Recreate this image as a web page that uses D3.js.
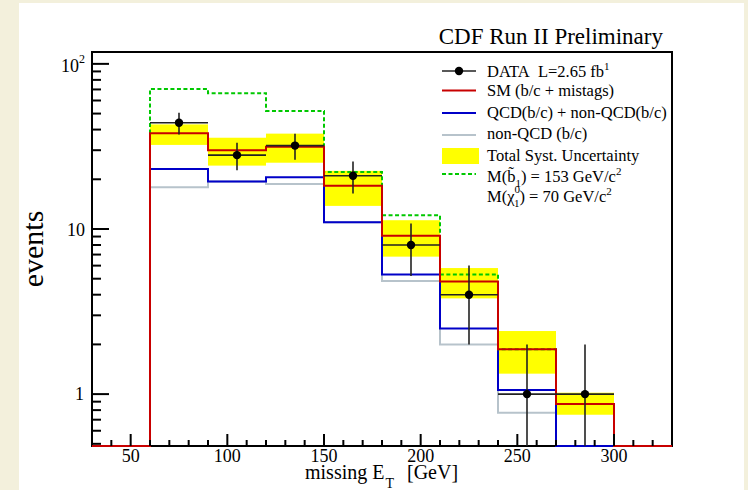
<!DOCTYPE html>
<html>
<head>
<meta charset="utf-8">
<script src="https://cdn.jsdelivr.net/npm/d3@7"></script>
<style>
  html, body { margin: 0; padding: 0; background: #f3f0dc; }
  svg { display: block; }
  text { font-family: "Liberation Serif", "Times New Roman", serif; fill: #000; white-space: pre; }
</style>
</head>
<body>
<svg id="chart" width="748" height="490"></svg>
<script>
// Missing E_T spectrum: bin edges in GeV (outer empty bins included)
const binEdges = [30, 60, 90, 120, 150, 180, 210, 240, 270, 300, 330];
const binCenters = [75, 105, 135, 165, 195, 225, 255, 285];

// Observed events and their errors
const dataCounts = [44, 28, 32, 21, 8, 4, 1, 1];
const dataErr = [6.6, 5.3, 5.7, 4.6, 2.8, 2.0, 1.0, 1.0];

// Expectations per bin (60-300 GeV)
const smTotal = [38, 30, 31.5, 18.3, 9.1, 4.8, 1.87, 0.87];
const qcdPlusNonQcd = [23.1, 19.4, 20.6, 11.0, 5.3, 2.5, 1.06, 0];
const nonQcd = [17.9, 19.4, 18.7, 11.0, 4.84, 2.0, 0.77, 0];
const signalPlusSm = [70.5, 66.4, 51.9, 22.1, 12.1, 5.3, 1.87, 0.87];

// Total systematic uncertainty band on the SM expectation
const systLo = [32.3, 24.2, 25.2, 13.8, 6.8, 3.8, 1.33, 0.75];
const systHi = [43, 35.7, 37.8, 22.5, 11.3, 5.8, 2.41, 1.02];

// Axis ticks
const xMajorTicks = [50, 100, 150, 200, 250, 300];
const xMinorTicks = [40, 60, 70, 80, 90, 110, 120, 130, 140, 160, 170, 180, 190,
  210, 220, 230, 240, 260, 270, 280, 290, 310, 320];
const yMajorTicks = [1, 10, 100];
const yMinorTicks = [0.5, 0.6, 0.7, 0.8, 0.9, 2, 3, 4, 5, 6, 7, 8, 9,
  20, 30, 40, 50, 60, 70, 80, 90];

const W = 748, H = 490;
const plot = { left: 92, right: 672, top: 52, bottom: 446 };

const svg = d3.select("#chart");

// page: cream border round a white canvas
svg.append("rect").attr("x", 0).attr("y", 0).attr("width", W).attr("height", H).attr("fill", "#f3f0dc");
svg.append("rect").attr("x", 19).attr("y", 3).attr("width", 725).attr("height", H - 3).attr("fill", "#ffffff");

const x = d3.scaleLinear().domain([30, 330]).range([plot.left, plot.right]);
const y = d3.scaleLog().domain([0.485, 118]).range([plot.bottom, plot.top]);
const yMin = y.domain()[0];
const yv = v => y(Math.max(v, yMin));

svg.append("defs").append("clipPath").attr("id", "plotClip")
  .append("rect").attr("x", plot.left - 1).attr("y", plot.top)
  .attr("width", plot.right - plot.left + 2).attr("height", plot.bottom - plot.top + 2);

// histogram step path over all bins, empty outer bins sit on the bottom edge
function stepPath(vals) {
  const full = [0, ...vals, 0];
  let p = "";
  full.forEach((v, i) => {
    const x0 = x(binEdges[i]), x1 = x(binEdges[i + 1]), yy = yv(v);
    p += (i === 0 ? "M" : "L") + x0 + "," + yy + "L" + x1 + "," + yy;
  });
  return p;
}

const g = svg.append("g").attr("clip-path", "url(#plotClip)");

// systematic band
g.append("g").selectAll("rect").data(binCenters).join("rect")
  .attr("x", (d, i) => x(binEdges[i + 1]))
  .attr("width", (d, i) => x(binEdges[i + 2]) - x(binEdges[i + 1]))
  .attr("y", (d, i) => yv(systHi[i]))
  .attr("height", (d, i) => yv(systLo[i]) - yv(systHi[i]))
  .attr("fill", "#ffff00");

// frame
svg.append("rect")
  .attr("x", plot.left).attr("y", plot.top)
  .attr("width", plot.right - plot.left).attr("height", plot.bottom - plot.top)
  .attr("fill", "none").attr("stroke", "#000").attr("stroke-width", 2);

const h = svg.append("g").attr("clip-path", "url(#plotClip)");
const histStyles = [
  { vals: nonQcd, color: "#b7c3cb", dash: null },
  { vals: qcdPlusNonQcd, color: "#0000c8", dash: null },
  { vals: signalPlusSm, color: "#00c800", dash: "4,2.5" },
  { vals: smTotal, color: "#c80000", dash: null }
];
histStyles.forEach(s => {
  h.append("path").attr("d", stepPath(s.vals))
    .attr("fill", "none").attr("stroke", s.color).attr("stroke-width", 2)
    .attr("stroke-dasharray", s.dash);
});

// data points with error bars
const pts = h.append("g");
binCenters.forEach((c, i) => {
  pts.append("line")
    .attr("x1", x(binEdges[i + 1])).attr("x2", x(binEdges[i + 2]))
    .attr("y1", yv(dataCounts[i])).attr("y2", yv(dataCounts[i]))
    .attr("stroke", "#222").attr("stroke-width", 1.6);
  pts.append("line")
    .attr("x1", x(c)).attr("x2", x(c))
    .attr("y1", yv(dataCounts[i] + dataErr[i])).attr("y2", yv(dataCounts[i] - dataErr[i]))
    .attr("stroke", "#222").attr("stroke-width", 1.6);
  pts.append("circle").attr("cx", x(c)).attr("cy", yv(dataCounts[i])).attr("r", 4.2).attr("fill", "#000");
});

// x tick labels
svg.append("g").selectAll("text").data(xMajorTicks).join("text")
  .attr("x", d => x(d)).attr("y", 462)
  .attr("text-anchor", "middle").attr("font-size", 18)
  .text(d => d);

// y tick labels
const yLab = svg.append("g");
yLab.append("text").attr("x", 84).attr("y", y(1) + 6)
  .attr("text-anchor", "end").attr("font-size", 18).text("1");
yLab.append("text").attr("x", 85).attr("y", y(10) + 7)
  .attr("text-anchor", "end").attr("font-size", 18).text("10");
const t100 = yLab.append("text").attr("x", 85).attr("y", y(100) + 8)
  .attr("text-anchor", "end").attr("font-size", 18);
t100.append("tspan").text("10");
t100.append("tspan").attr("font-size", 12).attr("dy", -9).text("2");

// axis titles
const xt = svg.append("text").attr("x", 305).attr("y", 479).attr("font-size", 20);
xt.append("tspan").text("missing E");
xt.append("tspan").attr("font-size", 14).attr("dy", 9).attr("dx", 1).text("T");
xt.append("tspan").attr("dy", -9).attr("dx", 3).text("  [GeV]");

svg.append("text")
  .attr("transform", "translate(43,249) rotate(-90)")
  .attr("text-anchor", "middle").attr("font-size", 30)
  .text("events");

svg.append("text").attr("x", 663).attr("y", 44).attr("text-anchor", "end")
  .attr("font-size", 23).text("CDF Run II Preliminary");

// legend
const lg = svg.append("g");
const lx0 = 442, lx1 = 476, tx = 487, fs = 16.5;
lg.append("line").attr("x1", lx0).attr("x2", lx1).attr("y1", 71).attr("y2", 71).attr("stroke", "#222").attr("stroke-width", 1.6);
lg.append("circle").attr("cx", 459).attr("cy", 71).attr("r", 4.2).attr("fill", "#000");
const l1 = lg.append("text").attr("x", tx).attr("y", 77).attr("font-size", fs);
l1.append("tspan").text("DATA\u00a0\u00a0L=2.65 fb");
l1.append("tspan").attr("font-size", 11).attr("dy", -7).text("1");

[["SM (b/c + mistags)", "#c80000", 90.5, 95.5],
 ["QCD(b/c) + non-QCD(b/c)", "#0000c8", 113, 117.5],
 ["non-QCD (b/c)", "#b7c3cb", 135, 139]].forEach(([t, c, ly, ty]) => {
  lg.append("line").attr("x1", lx0).attr("x2", lx1).attr("y1", ly).attr("y2", ly).attr("stroke", c).attr("stroke-width", 2);
  lg.append("text").attr("x", tx).attr("y", ty).attr("font-size", fs).text(t);
});
lg.append("rect").attr("x", lx0).attr("y", 148).attr("width", 37).attr("height", 16).attr("fill", "#ffff00");
lg.append("text").attr("x", tx).attr("y", 160.5).attr("font-size", fs).text("Total Syst. Uncertainty");
lg.append("line").attr("x1", lx0).attr("x2", lx1).attr("y1", 174).attr("y2", 174)
  .attr("stroke", "#00c800").attr("stroke-width", 2).attr("stroke-dasharray", "4,2.5");

const m1 = lg.append("text").attr("x", tx).attr("y", 182).attr("font-size", fs);
m1.append("tspan").text("M(b\u0303");
m1.append("tspan").attr("font-size", 11).attr("dy", 5).text("1");
m1.append("tspan").attr("dy", -5).text(") = 153 GeV/c");
m1.append("tspan").attr("font-size", 11).attr("dy", -7).text("2");

const m2 = lg.append("text").attr("x", tx).attr("y", 202).attr("font-size", fs);
m2.append("tspan").text("M(\u03c7");
m2.append("tspan").attr("font-size", 11).attr("dy", -9).text("0");
m2.append("tspan").attr("font-size", 11).attr("dx", -6).attr("dy", 14).text("1");
m2.append("tspan").attr("dy", -5).text(") = 70 GeV/c");
m2.append("tspan").attr("font-size", 11).attr("dy", -7).text("2");

// tick marks pointing into the frame, drawn on top of everything
const tk = svg.append("g");
tk.selectAll("line.xmaj").data(xMajorTicks).join("line").attr("class", "xmaj")
  .attr("x1", d => x(d)).attr("x2", d => x(d))
  .attr("y1", plot.bottom).attr("y2", plot.bottom - 12)
  .style("stroke", "#000000").style("stroke-width", "2px");
tk.selectAll("line.xmin").data(xMinorTicks).join("line").attr("class", "xmin")
  .attr("x1", d => x(d)).attr("x2", d => x(d))
  .attr("y1", plot.bottom).attr("y2", plot.bottom - 6)
  .style("stroke", "#000000").style("stroke-width", "2px");
tk.selectAll("line.ymaj").data(yMajorTicks).join("line").attr("class", "ymaj")
  .attr("x1", plot.left).attr("x2", plot.left + 17)
  .attr("y1", d => y(d)).attr("y2", d => y(d))
  .style("stroke", "#000000").style("stroke-width", "2px");
tk.selectAll("line.ymin").data(yMinorTicks).join("line").attr("class", "ymin")
  .attr("x1", plot.left).attr("x2", plot.left + 9)
  .attr("y1", d => y(d)).attr("y2", d => y(d))
  .style("stroke", "#000000").style("stroke-width", "2px");
</script>
</body>
</html>
